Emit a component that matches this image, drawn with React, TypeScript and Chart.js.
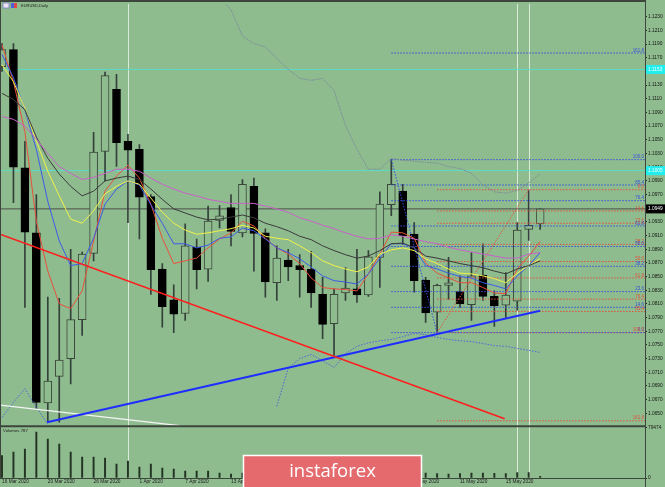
import React, { useEffect, useRef } from "react";
import { Chart, registerables } from "chart.js";

Chart.register(...registerables);

// ---------- data ----------
const barDates = [
  "16 Mar 2020", "17 Mar 2020", "18 Mar 2020", "19 Mar 2020", "20 Mar 2020",
  "23 Mar 2020", "24 Mar 2020", "25 Mar 2020", "26 Mar 2020", "27 Mar 2020",
  "30 Mar 2020", "31 Mar 2020", "1 Apr 2020", "2 Apr 2020", "3 Apr 2020",
  "6 Apr 2020", "7 Apr 2020", "8 Apr 2020", "9 Apr 2020", "10 Apr 2020",
  "13 Apr 2020", "14 Apr 2020", "15 Apr 2020", "16 Apr 2020", "17 Apr 2020",
  "20 Apr 2020", "21 Apr 2020", "22 Apr 2020", "23 Apr 2020", "24 Apr 2020",
  "27 Apr 2020", "28 Apr 2020", "29 Apr 2020", "30 Apr 2020", "1 May 2020",
  "4 May 2020", "5 May 2020", "6 May 2020", "7 May 2020", "8 May 2020",
  "11 May 2020", "12 May 2020", "13 May 2020", "14 May 2020", "15 May 2020",
  "18 May 2020", "19 May 2020", "20 May 2020",
];
const dateTickIndex = [0, 4, 8, 12, 16, 20, 24, 28, 32, 36, 40, 44];

const priceTicks = [
  1.065, 1.067, 1.069, 1.071, 1.073, 1.075, 1.077, 1.079, 1.081, 1.083,
  1.085, 1.087, 1.089, 1.091, 1.093, 1.095, 1.097, 1.099, 1.101, 1.103,
  1.105, 1.107, 1.109, 1.111, 1.113, 1.115, 1.117, 1.119, 1.121, 1.123,
];
const volumeTicks = [0, 79474];

const opens = [1.1157,1.1182,1.1009,1.0914,1.0665,1.0704,1.0730,1.0787,1.0884,1.1033,1.1124,1.1048,1.1036,1.0967,1.0861,1.0816,1.0796,1.0893,1.0861,1.0932,1.0951,1.0914,1.0982,1.0914,1.0841,1.0874,1.0866,1.0861,1.0824,1.0781,1.0826,1.0832,1.0823,1.0878,1.0955,1.0975,1.0912,1.0845,1.0798,1.0837,1.0828,1.0809,1.0852,1.0821,1.0808,1.0814,1.0919,1.0927];
const highs = [1.1191,1.1191,1.1048,1.0970,1.0820,1.0818,1.0890,1.0886,1.1061,1.1149,1.1146,1.1058,1.1043,1.0970,1.0869,1.0838,1.0927,1.0905,1.0953,1.0954,1.0970,1.0992,1.0994,1.0920,1.0895,1.0890,1.0882,1.0887,1.0849,1.0832,1.0863,1.0890,1.0888,1.0974,1.1021,1.0985,1.0929,1.0849,1.0839,1.0878,1.0851,1.0885,1.0898,1.0829,1.0856,1.0929,1.0977,1.0949];
const lows = [1.1150,1.0958,1.0805,1.0657,1.0637,1.0637,1.0693,1.0764,1.0873,1.0990,1.1011,1.0929,1.0905,1.0824,1.0776,1.0768,1.0786,1.0832,1.0843,1.0921,1.0895,1.0908,1.0858,1.0820,1.0815,1.0844,1.0820,1.0805,1.0759,1.0732,1.0815,1.0812,1.0821,1.0834,1.0939,1.0897,1.0827,1.0783,1.0768,1.0817,1.0805,1.0786,1.0815,1.0777,1.0790,1.0801,1.0903,1.0919];
const closes = [1.1182,1.1010,1.0915,1.0666,1.0697,1.0728,1.0787,1.0883,1.1032,1.1144,1.1046,1.1035,1.0966,1.0860,1.0806,1.0795,1.0895,1.0860,1.0931,1.0939,1.0916,1.0985,1.0913,1.0842,1.0877,1.0864,1.0860,1.0826,1.0780,1.0824,1.0833,1.0823,1.0879,1.0956,1.0985,1.0910,1.0844,1.0797,1.0837,1.0841,1.0810,1.0851,1.0821,1.0807,1.0823,1.0918,1.0925,1.0949];
const volumes = [35000,40500,45200,71700,60800,53000,40500,32700,32700,31200,21800,26500,17100,21800,15600,14000,10900,10900,10900,7800,6200,7500,7000,7200,6800,6000,6400,7000,7600,7300,6500,6200,7100,8200,7900,7400,7700,7800,7000,6200,7000,7800,7500,7200,7000,8600,8300,2500];

const maRed = [1.1189,1.1135,1.1062,1.0931,1.0858,1.0810,1.0803,1.0829,1.0902,1.0975,1.0997,1.1013,1.0994,1.0956,1.0906,1.0869,1.0873,1.0877,1.0892,1.0905,1.0914,1.0931,1.0924,1.0906,1.0892,1.0883,1.0869,1.0848,1.0834,1.0832,1.0831,1.0829,1.0854,1.0883,1.0915,1.0914,1.0906,1.0870,1.0855,1.0848,1.0841,1.0841,1.0834,1.0826,1.0825,1.0861,1.0880,1.0901];
const maBlue = [1.1175,1.1141,1.1094,1.1036,1.0960,1.0902,1.0866,1.0869,1.0906,1.0956,1.0978,1.0990,1.0984,1.0955,1.0928,1.0898,1.0898,1.0892,1.0896,1.0906,1.0908,1.0921,1.0917,1.0905,1.0892,1.0885,1.0876,1.0864,1.0851,1.0844,1.0842,1.0839,1.0854,1.0877,1.0898,1.0898,1.0892,1.0866,1.0861,1.0855,1.0850,1.0848,1.0841,1.0837,1.0832,1.0851,1.0866,1.0885];
const maYellow = [1.1160,1.1135,1.1096,1.1048,1.1004,1.0968,1.0934,1.0928,1.0946,1.0971,1.0982,1.0990,1.0985,1.0965,1.0944,1.0928,1.0918,1.0912,1.0914,1.0917,1.0920,1.0925,1.0921,1.0909,1.0906,1.0904,1.0895,1.0885,1.0873,1.0866,1.0861,1.0857,1.0864,1.0883,1.0889,1.0892,1.0888,1.0876,1.0869,1.0861,1.0855,1.0854,1.0851,1.0847,1.0841,1.0855,1.0866,1.0876];
const maGray = [1.1118,1.1109,1.1094,1.1054,1.1023,1.1000,1.0982,1.0968,1.0975,1.0990,1.0994,1.0997,1.0992,1.0978,1.0963,1.0949,1.0943,1.0937,1.0933,1.0934,1.0937,1.0940,1.0936,1.0928,1.0923,1.0917,1.0909,1.0904,1.0895,1.0888,1.0882,1.0877,1.0880,1.0888,1.0898,1.0899,1.0892,1.0880,1.0877,1.0873,1.0869,1.0866,1.0863,1.0858,1.0854,1.0861,1.0866,1.0873];
const maMagenta = [1.1084,1.1080,1.1070,1.1051,1.1030,1.1011,1.1001,1.0992,1.0995,1.1001,1.1007,1.1007,1.1004,1.0994,1.0985,1.0978,1.0972,1.0968,1.0963,1.0960,1.0957,1.0957,1.0957,1.0953,1.0949,1.0944,1.0936,1.0931,1.0925,1.0920,1.0914,1.0909,1.0905,1.0906,1.0911,1.0909,1.0905,1.0901,1.0898,1.0893,1.0889,1.0886,1.0883,1.0880,1.0877,1.0877,1.0883,1.0885];

const bandUpper = [null,null,null,null,null,null,null,null,null,null,null,null,null,null,null,null,null,null,null,
  1.1258,1.1240,1.1202,1.1191,1.1186,1.1169,1.1153,1.1140,1.1137,1.1140,1.1122,1.1071,1.1036,1.1007,1.1007,1.1023,1.1020,1.1019,1.1017,1.1016,1.1011,1.1008,1.1001,1.0984,1.0974,1.0972,1.0976,1.0987,1.1000];
const bandLower = [1.0644,1.0666,1.0686,1.0659,1.0634,null,null,null,null,null,null,null,null,null,null,null,null,null,null,null,null,null,null,null,
  1.0660,1.0716,1.0730,1.0736,1.0727,1.0717,1.0737,1.0748,1.0753,1.0756,1.0758,1.0762,1.0767,1.0765,1.0761,1.0758,1.0756,1.0755,1.0752,1.0749,1.0748,1.0745,1.0742,1.0739];

const redTrendX = [-0.17, 43.9];
const redTrendY = [1.0912, 1.0642];
const blueTrendX = [3.93, 47];
const blueTrendY = [1.0637, 1.08];
const whiteTrendX = [-0.17, 15.5];
const whiteTrendY = [1.0662, 1.0632];

const fibLevels = [0, 14.6, 23.6, 38.2, 50, 61.8, 76.4, 85.4, 100, 161.8];
const fibBluePrices = [1.0768,1.0805,1.0828,1.0865,1.0894,1.0924,1.0961,1.0984,1.1021,1.1177];
const fibRedPrices = [1.0977,1.0946,1.0928,1.0897,1.0872,1.0848,1.0817,1.0799,1.0768,1.0639];
const fibBlueStart = 34;
const fibRedStart = 38;
const fibBlueDiagX = [34, 38];
const fibBlueDiagY = [1.1021, 1.0768];
const fibRedDiagX = [38, 46];
const fibRedDiagY = [1.0768, 1.0977];

const cyanLevels = [1.1153, 1.1005];
const verticalMarks = [11, 45, 46];

// ---------- styling ----------
const X_MIN = -0.1747;
const X_MAX = 56.157;
const Y_MIN = 1.06311;
const Y_MAX = 1.12489;
const VOL_MAX = 81000;

const BG = "#8fbc8f";
const WICK = "#34403a";
const BULL_EDGE = "#3a463a";
const FIB_BLUE = "#3450dc";
const FIB_RED = "#e0503c";
const FONT = "'Liberation Sans', Arial, sans-serif";

const decor = {
  id: "decor",
  beforeDraw(chart: any) {
    const { ctx, width, height } = chart;
    ctx.save();
    ctx.fillStyle = BG;
    ctx.fillRect(0, 0, width, height);
    ctx.restore();
  },
  beforeDatasetsDraw(chart: any) {
    const { ctx, scales } = chart;
    const x = scales.x, y = scales.y, yv = scales.yv;
    ctx.save();
    ctx.strokeStyle = "rgba(236,246,236,0.8)";
    ctx.lineWidth = 1;
    for (const m of verticalMarks) {
      const px = Math.round(x.getPixelForValue(m)) + 0.5;
      ctx.beginPath();
      ctx.moveTo(px, y.top);
      ctx.lineTo(px, yv.bottom);
      ctx.stroke();
    }
    ctx.restore();
  },
  afterDraw(chart: any) {
    const { ctx, scales, width, height } = chart;
    const x = scales.x, y = scales.y, yv = scales.yv;
    const right = x.right;
    ctx.save();
    // frames
    ctx.strokeStyle = "#3c463c";
    ctx.lineWidth = 2;
    ctx.beginPath(); ctx.moveTo(0, 1); ctx.lineTo(right, 1); ctx.stroke();
    ctx.beginPath(); ctx.moveTo(0, y.bottom); ctx.lineTo(right, y.bottom); ctx.stroke();
    ctx.lineWidth = 1;
    ctx.beginPath(); ctx.moveTo(0.5, 0); ctx.lineTo(0.5, yv.bottom); ctx.stroke();
    ctx.beginPath(); ctx.moveTo(0, yv.bottom + 0.5); ctx.lineTo(right, yv.bottom + 0.5); ctx.stroke();
    ctx.beginPath(); ctx.moveTo(right + 0.5, 0); ctx.lineTo(right + 0.5, height); ctx.stroke();

    // fibonacci labels
    ctx.font = `4.5px ${FONT}`;
    ctx.textAlign = "right";
    ctx.textBaseline = "bottom";
    fibLevels.forEach((lv, i) => {
      ctx.fillStyle = FIB_BLUE;
      ctx.fillText(lv.toFixed(1), right - 1, y.getPixelForValue(fibBluePrices[i]) - 0.3);
      ctx.fillStyle = FIB_RED;
      ctx.fillText(lv.toFixed(1), right - 1, y.getPixelForValue(fibRedPrices[i]) - 0.3);
    });

    // axis price boxes
    const box = (price: number, fill: string, txt: string) => {
      const py = y.getPixelForValue(price);
      ctx.fillStyle = fill;
      ctx.fillRect(right + 1, py - 4.5, width - right - 1, 9);
      ctx.fillStyle = txt;
      ctx.font = `4.8px ${FONT}`;
      ctx.textAlign = "left";
      ctx.textBaseline = "middle";
      ctx.fillText(price.toFixed(4), right + 3, py);
    };
    cyanLevels.forEach((p) => box(p, "#22eeee", "#f4ffff"));
    box(closes[closes.length - 1], "#000000", "#ffffff");

    // title
    ctx.fillStyle = "#ece4f4";
    ctx.fillRect(3, 3, 6, 5);
    ctx.strokeStyle = "#7c7cc4";
    ctx.lineWidth = 0.8;
    ctx.strokeRect(3, 3, 6, 5);
    ctx.fillStyle = "#4862e0";
    ctx.fillRect(11, 3, 6, 5);
    ctx.fillStyle = "#e04848";
    ctx.fillRect(14, 3, 3, 5);
    ctx.fillStyle = "#1a1a1a";
    ctx.font = `4px ${FONT}`;
    ctx.textAlign = "left";
    ctx.textBaseline = "middle";
    ctx.fillText("EURUSD,Daily", 21, 5.5);

    // volume label
    ctx.font = `4.3px ${FONT}`;
    ctx.fillText("Volumes 787", 3, y.bottom + 5);

    // watermark
    ctx.fillStyle = "#e46a6d";
    ctx.fillRect(243, 455, 179, 40);
    ctx.strokeStyle = "#ffffff";
    ctx.lineWidth = 1.5;
    ctx.strokeRect(243.5, 455.5, 178, 40);
    ctx.fillStyle = "#ffffff";
    ctx.font = `18.5px 'Open Sans', sans-serif`;
    ctx.textAlign = "center";
    ctx.textBaseline = "alphabetic";
    ctx.fillText("instaforex", 332.5, 477);
    ctx.restore();
  },
};

function lineDs(data: any[], color: string, width: number, dash: number[], order: number) {
  return {
    type: "line",
    data,
    xAxisID: "x",
    yAxisID: "y",
    borderColor: color,
    borderWidth: width,
    borderDash: dash,
    pointRadius: 0,
    fill: false,
    tension: 0,
    spanGaps: false,
    order,
  };
}

export default function App() {
  const ref = useRef<HTMLCanvasElement>(null);

  useEffect(() => {
    const canvas = ref.current;
    if (!canvas) return;
    const pts = (arr: (number | null)[]) => arr.map((v, i) => ({ x: i, y: v }));
    const seg = (xs: number[], ys: number[]) => xs.map((xv, i) => ({ x: xv, y: ys[i] }));
    const bull = opens.map((o, i) => closes[i] >= o);

    const datasets: any[] = [];
    // trend lines
    datasets.push(lineDs(seg(redTrendX, redTrendY), "#ff1e1e", 1.6, [], 0));
    datasets.push(lineDs(seg(blueTrendX, blueTrendY), "#1e2eff", 2, [], 0));
    datasets.push(lineDs(seg(whiteTrendX, whiteTrendY), "#f4f4f4", 1.4, [], 0));
    // moving averages
    datasets.push(lineDs(pts(maMagenta), "#c860c8", 1, [], 1));
    datasets.push(lineDs(pts(maGray), "#3a3a3a", 1, [], 1));
    datasets.push(lineDs(pts(maYellow), "#f2f24a", 1, [], 1));
    datasets.push(lineDs(pts(maBlue), "#3c5ae6", 1, [], 1));
    datasets.push(lineDs(pts(maRed), "#e8503a", 1, [], 1));
    // bands
    datasets.push(lineDs(pts(bandUpper), "#7a889c", 1, [1.5, 1], 2));
    datasets.push(lineDs(pts(bandLower), "#4a66d6", 1, [1.5, 1.5], 2));
    // fibonacci diagonals
    datasets.push(lineDs(seg(fibBlueDiagX, fibBlueDiagY), FIB_BLUE, 1, [1.5, 1.5], 2));
    datasets.push(lineDs(seg(fibRedDiagX, fibRedDiagY), FIB_RED, 1, [1.5, 1.5], 2));
    // fibonacci levels
    fibBluePrices.forEach((p) =>
      datasets.push(lineDs(seg([fibBlueStart, X_MAX], [p, p]), FIB_BLUE, 1, [1.5, 1.5], 3))
    );
    fibRedPrices.forEach((p) =>
      datasets.push(lineDs(seg([fibRedStart, X_MAX], [p, p]), FIB_RED, 1, [1.5, 1.5], 3))
    );
    // horizontal lines
    cyanLevels.forEach((p) =>
      datasets.push(lineDs(seg([X_MIN, X_MAX], [p, p]), "#5cdcc8", 1, [], 7))
    );
    const last = closes[closes.length - 1];
    datasets.push(lineDs(seg([X_MIN, X_MAX], [last, last]), "#4a4f4a", 1, [], 7));

    // candle bodies
    datasets.push({
      type: "bar",
      data: opens.map((o, i) => ({ x: i, y: [Math.min(o, closes[i]), Math.max(o, closes[i])] })),
      xAxisID: "x",
      yAxisID: "y",
      backgroundColor: bull.map((b) => (b ? BG : "#000000")),
      borderColor: bull.map((b) => (b ? BULL_EDGE : "#000000")),
      borderWidth: 1,
      borderSkipped: false,
      barThickness: 8,
      grouped: false,
      order: 4,
    });
    // wicks
    datasets.push({
      type: "bar",
      data: highs.map((h, i) => ({ x: i, y: [lows[i], h] })),
      xAxisID: "x",
      yAxisID: "y",
      backgroundColor: WICK,
      borderWidth: 0,
      barThickness: 1,
      grouped: false,
      order: 5,
    });
    // volumes
    datasets.push({
      type: "bar",
      data: volumes.map((v, i) => ({ x: i, y: v })),
      xAxisID: "x",
      yAxisID: "yv",
      backgroundColor: "#243424",
      borderWidth: 0,
      barThickness: 1.3,
      grouped: false,
      order: 6,
    });

    const tickFont = { family: FONT, size: 4.8 };

    const chart = new Chart(canvas, {
      type: "bar",
      data: { datasets },
      options: {
        animation: false,
        responsive: false,
        maintainAspectRatio: false,
        events: [],
        layout: { padding: { top: 2, left: 0, right: 0, bottom: 0 } },
        plugins: { legend: { display: false }, tooltip: { enabled: false } },
        scales: {
          x: {
            type: "linear",
            position: "bottom",
            min: X_MIN,
            max: X_MAX,
            offset: false,
            grid: { display: false, drawTicks: false },
            border: { display: false },
            ticks: {
              align: "start",
              autoSkip: false,
              maxRotation: 0,
              minRotation: 0,
              padding: 1,
              font: tickFont,
              color: "#1a1a1a",
              callback: (v: any) => barDates[Math.round(Number(v))] ?? "",
            },
            afterBuildTicks: (s: any) => {
              s.ticks = dateTickIndex.map((v) => ({ value: v }));
            },
            afterFit: (s: any) => {
              s.height = 9;
            },
          },
          y: {
            type: "linear",
            position: "right",
            stack: "panes",
            stackWeight: 424,
            min: Y_MIN,
            max: Y_MAX,
            offset: false,
            grid: { drawOnChartArea: false, drawTicks: true, tickLength: 2, color: "#2a2a2a" },
            border: { display: true, color: "#3c463c" },
            ticks: {
              autoSkip: false,
              padding: 1,
              font: tickFont,
              color: "#141414",
              callback: (v: any) => Number(v).toFixed(4),
            },
            afterBuildTicks: (s: any) => {
              s.ticks = priceTicks.map((v) => ({ value: v }));
            },
            afterFit: (s: any) => {
              s.width = 20;
            },
          },
          yv: {
            type: "linear",
            position: "right",
            stack: "panes",
            stackWeight: 52,
            min: 0,
            max: VOL_MAX,
            offset: false,
            grid: { drawOnChartArea: false, drawTicks: true, tickLength: 2, color: "#2a2a2a" },
            border: { display: true, color: "#3c463c" },
            ticks: {
              autoSkip: false,
              padding: 1,
              font: tickFont,
              color: "#141414",
              callback: (v: any) => String(v),
            },
            afterBuildTicks: (s: any) => {
              s.ticks = volumeTicks.map((v) => ({ value: v }));
            },
            afterFit: (s: any) => {
              s.width = 20;
            },
          },
        },
      } as any,
      plugins: [decor],
    } as any);

    return () => chart.destroy();
  }, []);

  return (
    <div style={{ position: "fixed", left: 0, top: 0, width: 665, height: 487, background: BG }}>
      <canvas ref={ref} width={665} height={487} style={{ display: "block", width: 665, height: 487 }} />
    </div>
  );
}
